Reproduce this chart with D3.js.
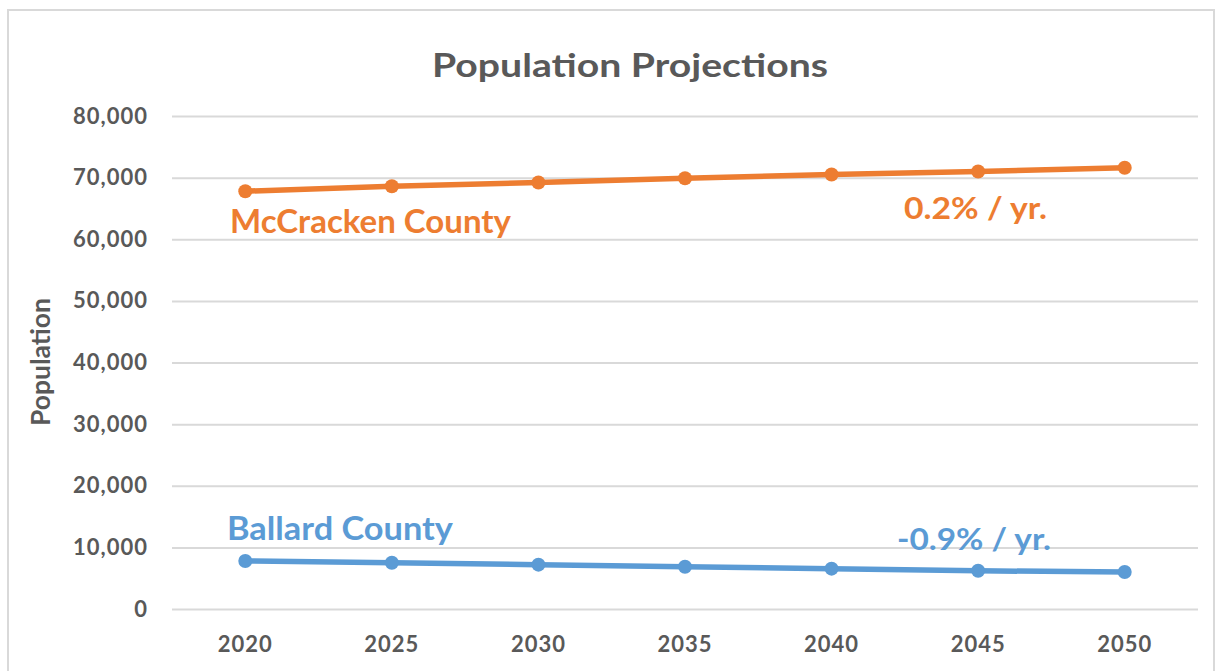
<!DOCTYPE html>
<html><head><meta charset="utf-8">
<script src="https://cdn.jsdelivr.net/npm/d3@7"></script>
<style>body{margin:0;background:#fff;} text{font-family:Lato,"Open Sans",sans-serif;}</style>
</head><body>
<svg id="c" width="1221" height="671"></svg>
<script>
const years = ["2020","2025","2030","2035","2040","2045","2050"];
const mccracken = [67800, 68600, 69200, 69900, 70500, 71000, 71600];
const ballard = [7800, 7500, 7200, 6850, 6550, 6200, 6000];
const yTicks = [0,10000,20000,30000,40000,50000,60000,70000,80000];
const seriesNames = ["McCracken County","Ballard County"];
const rateLabels = ["0.2% / yr.","-0.9% / yr."];

(function(){
const svg = d3.select("#c");
svg.append("rect").attr("x",8).attr("y",10).attr("width",1206).attr("height",680)
  .attr("fill","#fff").attr("stroke","#d9d9d9").attr("stroke-width",2);

const pL=172,pR=1198,pT=116,pB=609;
const x=d3.scaleBand().domain(years).range([pL,pR]);
const y=d3.scaleLinear().domain([0,80000]).range([pB,pT]);
const grey="#595959";

svg.append("text").attr("x",432).attr("y",77)
  .attr("font-size",32).attr("font-weight","bold").attr("fill",grey)
  .attr("textLength",396).attr("lengthAdjust","spacingAndGlyphs").text("Population Projections");

const yAxis=svg.append("g").attr("transform",`translate(${pL},0)`)
  .call(d3.axisLeft(y).tickValues(yTicks).tickSize(-(pR-pL)).tickPadding(24).tickFormat(d3.format(",")));
yAxis.select(".domain").remove();
yAxis.selectAll("line").attr("stroke","#d9d9d9").attr("stroke-width",2);
yAxis.selectAll("text").attr("font-size",22).attr("font-weight","bold").attr("fill",grey)
  .attr("letter-spacing",1).style("font-family","Lato, sans-serif");

const xAxis=svg.append("g").attr("transform",`translate(0,${pB})`)
  .call(d3.axisBottom(x).tickSize(0).tickPadding(27));
xAxis.select(".domain").remove();
xAxis.selectAll("text").attr("font-size",22).attr("font-weight","bold").attr("fill",grey)
  .attr("letter-spacing",1).style("font-family","Lato, sans-serif");

svg.append("text").attr("transform","translate(50,362) rotate(-90)").attr("text-anchor","middle")
  .attr("font-size",26).attr("font-weight","bold").attr("fill",grey)
  .attr("textLength",128).attr("lengthAdjust","spacingAndGlyphs").text("Population");

const cx=d=>x(d)+x.bandwidth()/2;
const series=[{v:mccracken,c:"#ED7D31"},{v:ballard,c:"#5B9BD5"}];
const line=d3.line().x((d,i)=>cx(years[i])).y(d=>y(d));
series.forEach(s=>{
  svg.append("path").datum(s.v).attr("d",line).attr("fill","none").attr("stroke",s.c)
    .attr("stroke-width",5.5).attr("stroke-linejoin","round");
  svg.selectAll(null).data(s.v).enter().append("circle")
    .attr("cx",(d,i)=>cx(years[i])).attr("cy",d=>y(d)).attr("r",7).attr("fill",s.c);
});

const lab=[
  {t:seriesNames[0],x:230,y:233,c:"#ED7D31",fs:32,w:281},
  {t:rateLabels[0],x:904,y:219,c:"#ED7D31",fs:30,w:143},
  {t:seriesNames[1],x:227,y:540,c:"#5B9BD5",fs:32,w:226},
  {t:rateLabels[1],x:897,y:550,c:"#5B9BD5",fs:30,w:154}
];
lab.forEach(l=>svg.append("text").attr("x",l.x).attr("y",l.y).attr("font-size",l.fs)
  .attr("font-weight","bold").attr("fill",l.c)
  .attr("textLength",l.w).attr("lengthAdjust","spacingAndGlyphs").text(l.t));
})();
</script>
</body></html>
